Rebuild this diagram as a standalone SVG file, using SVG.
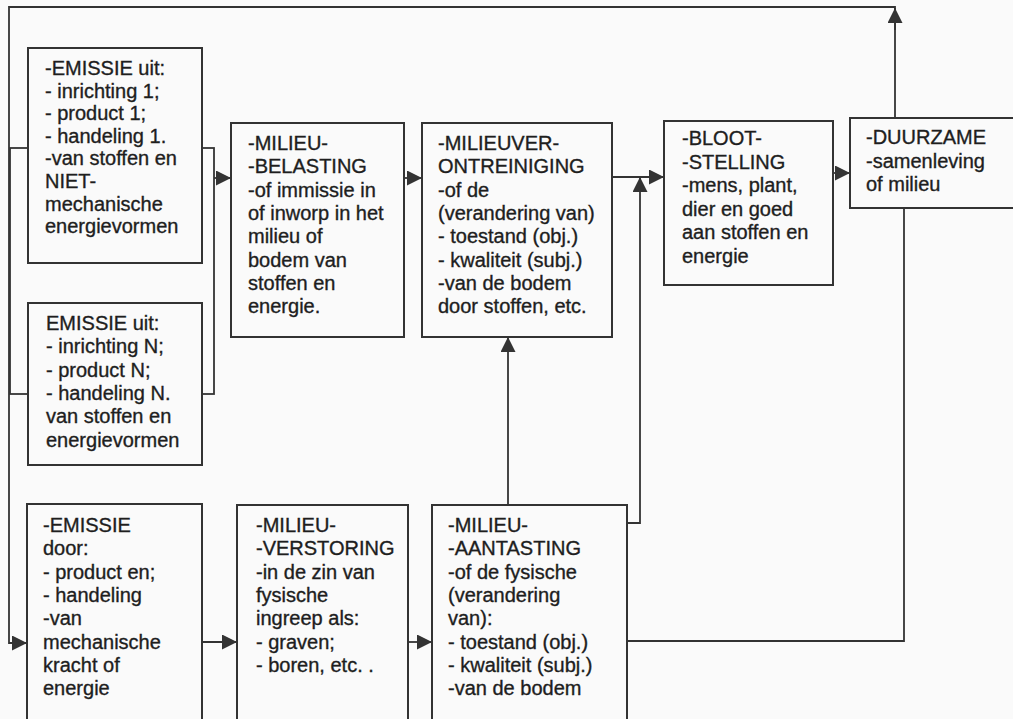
<svg xmlns="http://www.w3.org/2000/svg" width="1013" height="719" viewBox="0 0 1013 719">
<style>
.bg{fill:#fafafa}
.box{fill:#fafafa;stroke:#333;stroke-width:2}
.ln{fill:none;stroke:#333;stroke-width:1.8}
.t{font-family:"Liberation Sans",Arial,sans-serif;font-size:20px;fill:#1e1e1e;stroke:#1e1e1e;stroke-width:0.35}
</style>
<defs>
<marker id="ah" markerUnits="userSpaceOnUse" markerWidth="16" markerHeight="16" refX="15" refY="7.5" orient="auto" viewBox="0 0 16 16">
<path d="M0,0 L15,7.5 L0,15 z" fill="#333"/>
</marker>
</defs>
<rect class="bg" x="0" y="0" width="1013" height="719"/>
<g id="connectors">
<rect class="ln" x="10" y="148" width="204" height="246"/>
<path class="ln" d="M895,118 V7 H9 V643 H27" marker-end="url(#ah)"/>
<path class="ln" d="M895,30 V8" marker-end="url(#ah)"/>
<path class="ln" d="M214,178 H231" marker-end="url(#ah)"/>
<path class="ln" d="M404,178 H422" marker-end="url(#ah)"/>
<path class="ln" d="M612,177 H664" marker-end="url(#ah)"/>
<path class="ln" d="M833,173 H850" marker-end="url(#ah)"/>
<path class="ln" d="M627,523 H640 V177" marker-end="url(#ah)"/>
<path class="ln" d="M508,505 V337" marker-end="url(#ah)"/>
<path class="ln" d="M627,641 H904 V208"/>
<path class="ln" d="M202,642 H237" marker-end="url(#ah)"/>
<path class="ln" d="M408,642 H432" marker-end="url(#ah)"/>
</g>
<g id="emissie1">
<rect class="box" x="28" y="48" width="174" height="215"/>
<text class="t"><tspan x="45" y="75">-EMISSIE uit:</tspan><tspan x="45" y="97.6">- inrichting 1;</tspan><tspan x="45" y="120.2">- product 1;</tspan><tspan x="45" y="142.8">- handeling 1.</tspan><tspan x="45" y="165.4">-van stoffen en</tspan><tspan x="45" y="188">NIET-</tspan><tspan x="45" y="210.6">mechanische</tspan><tspan x="45" y="233.2">energievormen</tspan></text>
</g>
<g id="emissieN">
<rect class="box" x="28" y="303" width="174" height="162"/>
<text class="t"><tspan x="46" y="330">EMISSIE uit:</tspan><tspan x="46" y="353.3">- inrichting N;</tspan><tspan x="46" y="376.6">- product N;</tspan><tspan x="46" y="399.9">- handeling N.</tspan><tspan x="46" y="423.2">van stoffen en</tspan><tspan x="46" y="446.5">energievormen</tspan></text>
</g>
<g id="emissieDoor">
<rect class="box" x="27" y="504" width="175" height="230"/>
<text class="t"><tspan x="43" y="532">-EMISSIE</tspan><tspan x="43" y="555.3">door:</tspan><tspan x="43" y="578.6">- product en;</tspan><tspan x="43" y="601.9">- handeling</tspan><tspan x="43" y="625.2">-van</tspan><tspan x="43" y="648.5">mechanische</tspan><tspan x="43" y="671.8">kracht of</tspan><tspan x="43" y="695.1">energie</tspan></text>
</g>
<g id="belasting">
<rect class="box" x="231" y="123" width="173" height="214"/>
<text class="t"><tspan x="248" y="150">-MILIEU-</tspan><tspan x="248" y="173.3">-BELASTING</tspan><tspan x="248" y="196.6">-of immissie in</tspan><tspan x="248" y="219.9">of inworp in het</tspan><tspan x="248" y="243.2">milieu of</tspan><tspan x="248" y="266.5">bodem van</tspan><tspan x="248" y="289.8">stoffen en</tspan><tspan x="248" y="313.1">energie.</tspan></text>
</g>
<g id="verontreiniging">
<rect class="box" x="422" y="123" width="190" height="214"/>
<text class="t"><tspan x="438" y="150">-MILIEUVER-</tspan><tspan x="438" y="173.3">ONTREINIGING</tspan><tspan x="438" y="196.6">-of de</tspan><tspan x="438" y="219.9">(verandering van)</tspan><tspan x="438" y="243.2">- toestand (obj.)</tspan><tspan x="438" y="266.5">- kwaliteit (subj.)</tspan><tspan x="438" y="289.8">-van de bodem</tspan><tspan x="438" y="313.1">door stoffen, etc.</tspan></text>
</g>
<g id="blootstelling">
<rect class="box" x="664" y="121" width="169" height="164"/>
<text class="t"><tspan x="682" y="145">-BLOOT-</tspan><tspan x="682" y="168.5">-STELLING</tspan><tspan x="682" y="192">-mens, plant,</tspan><tspan x="682" y="215.5">dier en goed</tspan><tspan x="682" y="239">aan stoffen en</tspan><tspan x="682" y="262.5">energie</tspan></text>
</g>
<g id="duurzame">
<rect class="box" x="850" y="118" width="175" height="90"/>
<text class="t"><tspan x="866" y="144">-DUURZAME</tspan><tspan x="866" y="167.5">-samenleving</tspan><tspan x="866" y="191">of milieu</tspan></text>
</g>
<g id="verstoring">
<rect class="box" x="237" y="505" width="171" height="230"/>
<text class="t"><tspan x="256" y="532">-MILIEU-</tspan><tspan x="256" y="555.3">-VERSTORING</tspan><tspan x="256" y="578.6">-in de zin van</tspan><tspan x="256" y="601.9">fysische</tspan><tspan x="256" y="625.2">ingreep als:</tspan><tspan x="256" y="648.5">- graven;</tspan><tspan x="256" y="671.8">- boren, etc. .</tspan></text>
</g>
<g id="aantasting">
<rect class="box" x="432" y="505" width="195" height="230"/>
<text class="t"><tspan x="448" y="532">-MILIEU-</tspan><tspan x="448" y="555.3">-AANTASTING</tspan><tspan x="448" y="578.6">-of de fysische</tspan><tspan x="448" y="601.9">(verandering</tspan><tspan x="448" y="625.2">van):</tspan><tspan x="448" y="648.5">- toestand (obj.)</tspan><tspan x="448" y="671.8">- kwaliteit (subj.)</tspan><tspan x="448" y="695.1">-van de bodem</tspan></text>
</g>
</svg>
